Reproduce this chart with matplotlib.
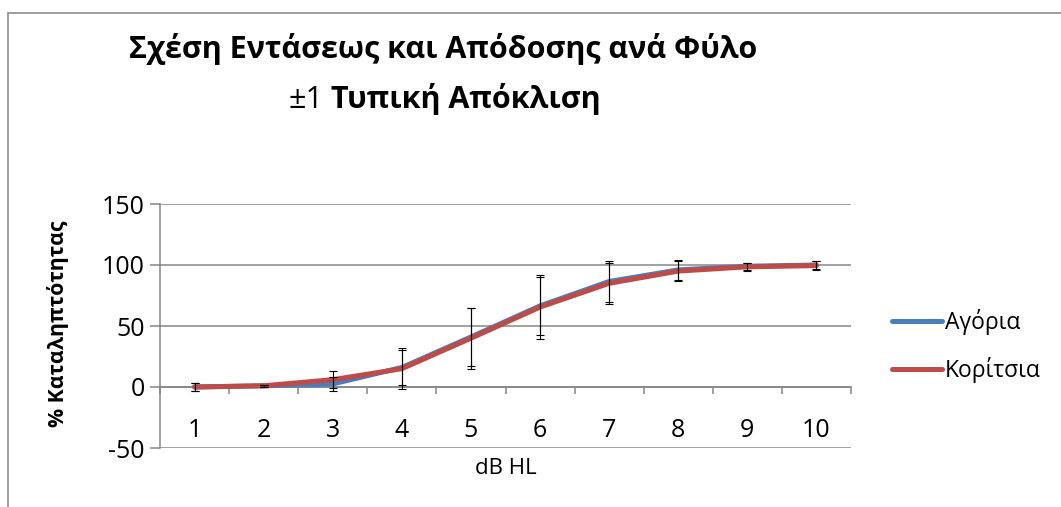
import numpy as np
import matplotlib
matplotlib.use('Agg')
import matplotlib.pyplot as plt
import matplotlib.patches as mpatches
from matplotlib.ticker import FixedLocator

plt.rcParams['font.family'] = ['Open Sans', 'DejaVu Sans']
plt.rcParams['axes.unicode_minus'] = False

# data
levels = [1, 2, 3, 4, 5, 6, 7, 8, 9, 10]
boys = [0, 1, 2.5, 16, 41, 66.5, 86.5, 96, 99, 100]
boys_sd = [3, 1, 5.5, 14, 24, 24, 16.5, 8.5, 3, 3]
girls = [0, 1, 6, 15, 40, 65.5, 85, 95, 98.5, 99.5]
girls_sd = [3, 1, 7, 17, 25, 26, 17, 8, 3.5, 3.5]
yticks = [-50, 0, 50, 100, 150]

W, H = 1061, 507
fig = plt.figure(figsize=(W / 100, H / 100), dpi=100)
ax = fig.add_axes([160 / W, 1 - 448 / H, (851 - 160) / W, (448 - 204) / H])

grey = '#868686'
blue = '#4A7EBB'
red = '#BE4B48'

ax.plot(levels, boys, color=blue, lw=3.6, label='Αγόρια', zorder=3,
        solid_capstyle='round')
ax.plot(levels, girls, color=red, lw=3.6, label='Κορίτσια', zorder=4,
        solid_capstyle='round')
ax.errorbar(levels, boys, yerr=boys_sd, fmt='none', ecolor='black',
            elinewidth=0.8, capsize=3, capthick=0.8, zorder=5)
ax.errorbar(levels, girls, yerr=girls_sd, fmt='none', ecolor='black',
            elinewidth=0.8, capsize=3, capthick=0.8, zorder=5)

ax.set_xlim(0.5, 10.5)
ax.set_ylim(-50, 150)
ax.set_yticks(yticks)
ax.yaxis.grid(True, color=grey, lw=1.1)
ax.set_axisbelow(True)
ax.tick_params(axis='y', length=7, width=1.1, color=grey, labelsize=18, pad=4)

ax.set_xticks(levels)
ax.xaxis.set_minor_locator(FixedLocator(np.arange(0.5, 11, 1)))
ax.tick_params(axis='x', which='major', length=0, labelsize=18, pad=22)
ax.tick_params(axis='x', which='minor', length=5, width=1.1, color=grey)

for s in ['top', 'right']:
    ax.spines[s].set_visible(False)
ax.spines['left'].set_color(grey)
ax.spines['left'].set_linewidth(1.1)
ax.spines['bottom'].set_position(('data', 0))
ax.spines['bottom'].set_color(grey)
ax.spines['bottom'].set_linewidth(1.1)

fig.text(506 / W, 1 - 468 / H, 'dB HL', ha='center', va='center', fontsize=16)
fig.text(58 / W, 1 - 324 / H, '% Καταληπτότητας', ha='center', va='center',
         rotation=90, fontsize=15.3, fontweight='bold')

fig.text(443 / W, 1 - 58 / H, 'Σχέση Εντάσεως και Απόδοσης ανά Φύλο',
         ha='center', va='baseline', fontsize=22, fontweight='bold')
t1 = fig.text(288 / W, 1 - 108 / H, '±1', ha='left', va='baseline', fontsize=22)
ax.annotate(' Τυπική Απόκλιση', xy=(1, 0), xycoords=t1, ha='left', va='bottom',
            fontsize=22, fontweight='bold', annotation_clip=False)

ax.legend(loc='center left', bbox_to_anchor=(892 / W, 1 - 346 / H),
          bbox_transform=fig.transFigure, frameon=False, fontsize=16.5,
          handlelength=2.2, handletextpad=0.1, labelspacing=1.0,
          borderpad=0, borderaxespad=0)

fig.patches.append(mpatches.Rectangle((8 / W, -0.2), 1.2, 1.2 - 13 / H,
                                      transform=fig.transFigure, fill=False,
                                      edgecolor='#8c8c8c', lw=1.2))

fig.savefig('out.png', dpi=100)
